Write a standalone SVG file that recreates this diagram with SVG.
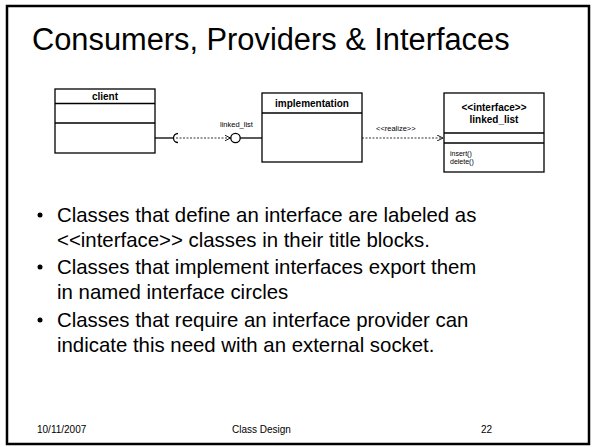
<svg xmlns="http://www.w3.org/2000/svg" width="594" height="447" viewBox="0 0 594 447">
  <style>
    .frame { fill: #ffffff; stroke: #000000; stroke-width: 2.5; }
    .box { fill: #ffffff; stroke: #000000; stroke-width: 1.3; }
    .div { stroke: #000000; stroke-width: 1.3; }
    .cls { font-family: "Liberation Sans", Arial, sans-serif; font-weight: bold; font-size: 10px; fill: #000; text-anchor: middle; }
    .op { font-family: "Liberation Sans", Arial, sans-serif; font-size: 7px; fill: #000; }
    .lbl { font-family: "Liberation Sans", Arial, sans-serif; font-size: 7.5px; fill: #000; }
    .solid { fill: none; stroke: #000; stroke-width: 1.3; }
    .dash { fill: none; stroke: #000; stroke-width: 0.8; stroke-dasharray: 2 1.5; }
    .title { font-family: "Liberation Sans", Arial, sans-serif; font-size: 30.8px; fill: #000; }
    .body { font-family: "Liberation Sans", Arial, sans-serif; font-size: 20.4px; fill: #000; }
    .foot { font-family: "Liberation Sans", Arial, sans-serif; font-size: 10px; fill: #000; }
  </style>
  <defs>
    <marker id="open" viewBox="0 0 6 6" refX="6" refY="3" markerWidth="6" markerHeight="6" markerUnits="userSpaceOnUse" orient="auto">
      <path d="M0,0 L6,3 L0,6" fill="none" stroke="#000" stroke-width="0.9"/>
    </marker>
  </defs>

  <rect class="frame" x="7" y="6" width="582" height="438"/>

  <text class="title" x="32" y="50">Consumers, Providers &amp; Interfaces</text>

  <g id="client">
    <rect class="box" x="55" y="89" width="100" height="64"/>
    <line class="div" x1="55" y1="103.5" x2="155" y2="103.5"/>
    <line class="div" x1="55" y1="123" x2="155" y2="123"/>
    <text class="cls" x="105" y="100">client</text>
  </g>

  <g id="implementation">
    <rect class="box" x="262" y="93" width="100" height="69"/>
    <line class="div" x1="262" y1="113" x2="362" y2="113"/>
    <text class="cls" x="312" y="107">implementation</text>
  </g>

  <g id="linked_list">
    <rect class="box" x="444" y="93" width="100" height="79"/>
    <line class="div" x1="444" y1="133" x2="544" y2="133"/>
    <line class="div" x1="444" y1="143" x2="544" y2="143"/>
    <text class="cls" x="494" y="111">&lt;&lt;interface&gt;&gt;</text>
    <text class="cls" x="494" y="123">linked_list</text>
    <text class="op" x="450" y="156">insert()</text>
    <text class="op" x="450" y="164">delete()</text>
  </g>

  <g id="connectors">
    <!-- required socket on client -->
    <line class="solid" x1="155" y1="138" x2="173" y2="138"/>
    <path class="solid" d="M178,133.5 A4.5,4.5 0 0 0 178,142.5"/>
    <line class="dash" x1="176" y1="138" x2="230.5" y2="138" marker-end="url(#open)"/>
    <!-- provided interface lollipop -->
    <circle class="solid" cx="235.5" cy="138" r="4.7"/>
    <line class="solid" x1="240.2" y1="138" x2="262" y2="138"/>
    <text class="lbl" x="220" y="127">linked_list</text>
    <!-- realization -->
    <line class="dash" x1="362" y1="138" x2="443" y2="138" marker-end="url(#open)"/>
    <text class="lbl" x="376" y="131">&lt;&lt;realize&gt;&gt;</text>
  </g>

  <g id="bullets">
    <circle cx="40" cy="215" r="2.5"/>
    <text class="body" x="57" y="222">Classes that define an interface are labeled as</text>
    <text class="body" x="57" y="247">&lt;&lt;interface&gt;&gt; classes in their title blocks.</text>
    <circle cx="40" cy="267" r="2.5"/>
    <text class="body" x="57" y="274">Classes that implement interfaces export them</text>
    <text class="body" x="57" y="299">in named interface circles</text>
    <circle cx="40" cy="320" r="2.5"/>
    <text class="body" x="57" y="327">Classes that require an interface provider can</text>
    <text class="body" x="57" y="352">indicate this need with an external socket.</text>
  </g>

  <text class="foot" x="37" y="433">10/11/2007</text>
  <text class="foot" x="232" y="433">Class Design</text>
  <text class="foot" x="481" y="433">22</text>
</svg>
